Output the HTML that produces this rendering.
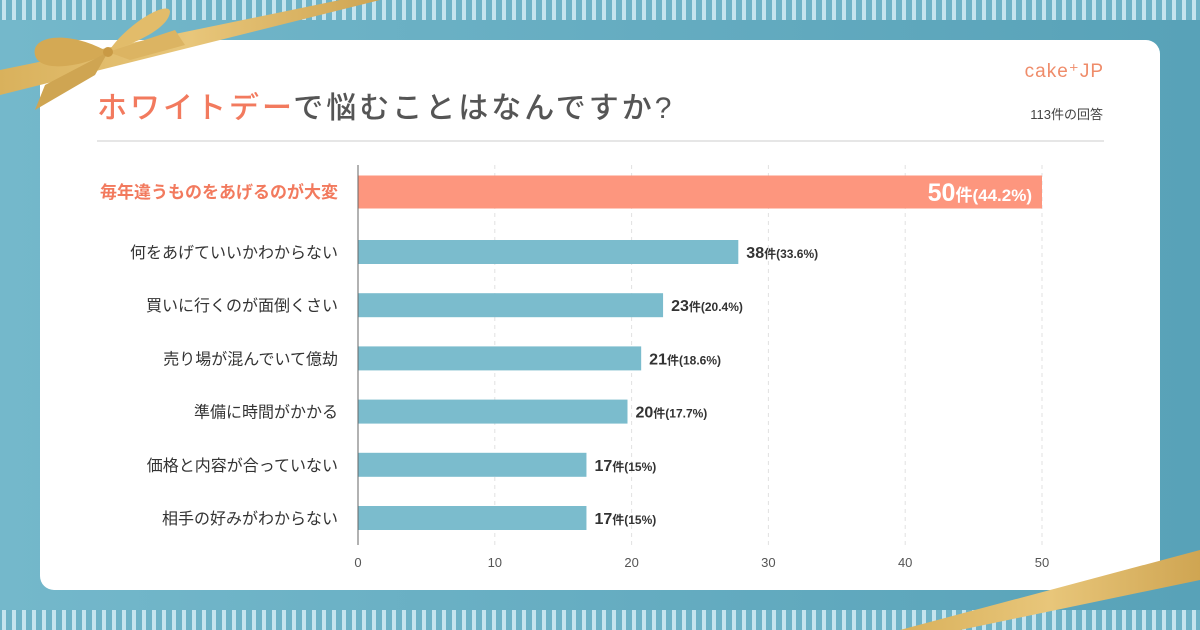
<!DOCTYPE html>
<html><head><meta charset="utf-8">
<style>
html,body{margin:0;padding:0;width:1200px;height:630px;overflow:hidden;font-family:"Liberation Sans","Noto Sans CJK JP",sans-serif;}
svg text{font-family:"Liberation Sans","Noto Sans CJK JP",sans-serif;}
</style></head>
<body>
<svg id="chart" width="1200" height="630" viewBox="0 0 1200 630" xmlns="http://www.w3.org/2000/svg">
<defs>
<linearGradient id="bg" x1="0" x2="1"><stop offset="0" stop-color="#74b8cb"/><stop offset="1" stop-color="#58a2b8"/></linearGradient>
<pattern id="stripes" width="10" height="20" patternUnits="userSpaceOnUse"><rect width="10" height="20" fill="#6fb3c7"/><rect x="2" width="4" height="20" fill="#c5e4ee"/></pattern>
<linearGradient id="gold" x1="0" x2="1"><stop offset="0" stop-color="#d9b15c"/><stop offset="0.5" stop-color="#e8c67a"/><stop offset="1" stop-color="#cfa552"/></linearGradient>
</defs>
<rect width="1200" height="630" fill="url(#bg)"/>
<rect x="0" y="0" width="1200" height="20" fill="url(#stripes)"/>
<rect x="0" y="610" width="1200" height="20" fill="url(#stripes)"/>
<rect x="40" y="40" width="1120" height="550" rx="14" fill="#fff"/>
<g>
<polygon points="0,70 340,0 380,0 0,95" fill="url(#gold)"/>
<path d="M108,52 C70,30 30,35 35,55 C40,75 90,65 108,52 Z" fill="#d4a954"/>
<path d="M108,52 C130,20 170,0 170,12 C168,30 130,45 108,52 Z" fill="#e2bc6a"/>
<path d="M108,52 L130,60 L185,45 L175,30 Z" fill="#dcb462"/>
<path d="M108,52 L95,75 L35,110 L45,85 Z" fill="#cfa552"/>
<circle cx="108" cy="52" r="5" fill="#c99a45"/>
</g>
<polygon points="900,630 1200,550 1200,580 960,630" fill="url(#gold)"/>
<text x="97" y="118" font-size="30" font-weight="500" letter-spacing="3"><tspan fill="#f27a5e">ホワイトデー</tspan><tspan fill="#555">で悩むことはなんですか?</tspan></text>
<text x="1104" y="77" font-size="19" fill="#ef8c6a" text-anchor="end" letter-spacing="1">cake⁺JP</text>
<text x="1103" y="119" font-size="13" fill="#444" text-anchor="end">113件の回答</text>
<line x1="97" y1="141" x2="1104" y2="141" stroke="#e6e6e6" stroke-width="2"/>
<g id="plot"></g>
</svg>
<script>
const categories=["毎年違うものをあげるのが大変","何をあげていいかわからない","買いに行くのが面倒くさい","売り場が混んでいて億劫","準備に時間がかかる","価格と内容が合っていない","相手の好みがわからない"];
const values=[50,38,23,21,20,17,17];
const barLengths=[50,27.8,22.3,20.7,19.7,16.7,16.7];
const percents=["44.2%","33.6%","20.4%","18.6%","17.7%","15%","15%"];
const ticks=[0,10,20,30,40,50];
const NS="http://www.w3.org/2000/svg";
const g=document.getElementById('plot');
const x0=358,x1=1042,xmax=50;
const xs=v=>x0+(x1-x0)*v/xmax;
const ys=i=>i===0?192:252+(i-1)*53.2;
function el(t,a,txt){const e=document.createElementNS(NS,t);for(const k in a)e.setAttribute(k,a[k]);if(txt!==undefined)e.textContent=txt;g.appendChild(e);return e;}
ticks.forEach(t=>{
  if(t>0){const l=el('line',{x1:xs(t),x2:xs(t),y1:165,y2:545,stroke:'#e2e2e2','stroke-dasharray':'4,4'});
  
  }
  const tx=el('text',{x:xs(t),y:567,'font-size':13,fill:'#555','text-anchor':'middle'},String(t));
  
  
});
categories.forEach((c,i)=>{
  const top=i===0, h=top?33:24, y=ys(i);
  const bx=xs(barLengths[i]);
  const r=el('rect',{x:x0,y:y-h/2,width:bx-x0,height:h,fill:top?'#fd967e':'#7bbccd'});
  
  
  const lb=el('text',{x:338,y:y+6,'font-size':top?17:16,fill:top?'#f27a5e':'#333','font-weight':top?'bold':'normal','text-anchor':'end'},c);
  
  
  let v;
  if(top){
    v=el('text',{x:bx-10,y:y+9,fill:'#fff','font-weight':'bold','text-anchor':'end'});
    v.innerHTML='<tspan font-size="25">'+values[i]+'</tspan><tspan font-size="17">件('+percents[i]+')</tspan>';
  }else{
    v=el('text',{x:bx+8,y:y+6,fill:'#333','font-weight':'bold'});
    v.innerHTML='<tspan font-size="16">'+values[i]+'</tspan><tspan font-size="12">件('+percents[i]+')</tspan>';
  }
  
  
});
const ax=el('line',{x1:x0,x2:x0,y1:165,y2:545,stroke:'#666','stroke-width':1});


</script>
</body></html>
